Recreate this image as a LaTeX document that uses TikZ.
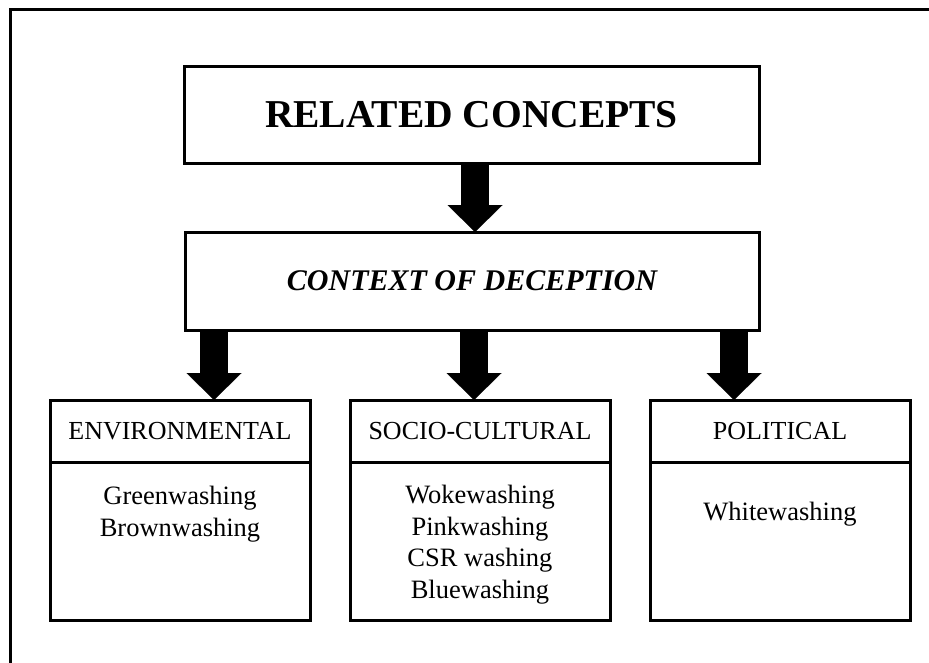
\documentclass[tikz,border=0pt]{standalone}
\usepackage{fontspec}
\setmainfont{Liberation Serif}
\usetikzlibrary{arrows.meta}
\begin{document}
\begin{tikzpicture}[x=1pt,y=-1pt,
  frame/.style={draw=black,line width=3.3pt},
  panel/.style={draw=black,line width=3pt,inner sep=0pt,outer sep=0pt,align=center},
  flow/.style={draw=black,line width=28pt,
    -{Triangle[width=55pt,length=27pt,line width=0.01pt]}},
  titlefont/.style={font=\fontsize{39.5}{47}\selectfont\bfseries},
  ctxfont/.style={font=\fontsize{30}{36}\selectfont\bfseries\itshape},
  catfont/.style={font=\fontsize{26}{31}\selectfont},
  listfont/.style={font=\fontsize{26.5}{31.6}\selectfont,align=center,
    inner sep=0pt,anchor=north}
]
\useasboundingbox (0,0) rectangle (929,662);
\fill[white] (0,0) rectangle (929,662);

% outer frame, running off the right and bottom edges
\begin{scope}
  \clip (0,0) rectangle (929,662);
  \draw[frame] (10.5,9.5) rectangle (960,700);
\end{scope}

% heading boxes
\node[panel,titlefont,minimum width=575pt,minimum height=97pt] (rel) at (471.5,114.5) {RELATED CONCEPTS};
\node[panel,ctxfont,minimum width=574pt,minimum height=98pt] (ctx) at (472,281) {CONTEXT OF DECEPTION};

% category columns: header band + body
\node[panel,catfont,minimum width=260pt,minimum height=62pt] (envhead) at (180,431) {ENVIRONMENTAL};
\node[panel,minimum width=260pt,minimum height=158pt,anchor=north] (envbody) at (envhead.south) {};
\node[panel,catfont,minimum width=260pt,minimum height=62pt] (sochead) at (480,431) {SOCIO-CULTURAL};
\node[panel,minimum width=260pt,minimum height=158pt,anchor=north] (socbody) at (sochead.south) {};
\node[panel,catfont,minimum width=260pt,minimum height=62pt] (polhead) at (780,431) {POLITICAL};
\node[panel,minimum width=260pt,minimum height=158pt,anchor=north] (polbody) at (polhead.south) {};

% lists of terms
\node[listfont] (envlist) at (180,486) {Greenwashing\\Brownwashing};
\node[listfont] (soclist) at (480,485) {Wokewashing\\Pinkwashing\\CSR washing\\Bluewashing};
\node[listfont] (pollist) at (780,502) {Whitewashing};

% block arrows
\coordinate (a0) at (475,0);
\coordinate (a1) at (214,0);
\coordinate (a2) at (474,0);
\coordinate (a3) at (734,0);
\draw[flow] (a0 |- rel.south) -- (a0 |- ctx.north);
\draw[flow] (a1 |- ctx.south) -- (a1 |- envhead.north);
\draw[flow] (a2 |- ctx.south) -- (a2 |- sochead.north);
\draw[flow] (a3 |- ctx.south) -- (a3 |- polhead.north);
\end{tikzpicture}
\end{document}
